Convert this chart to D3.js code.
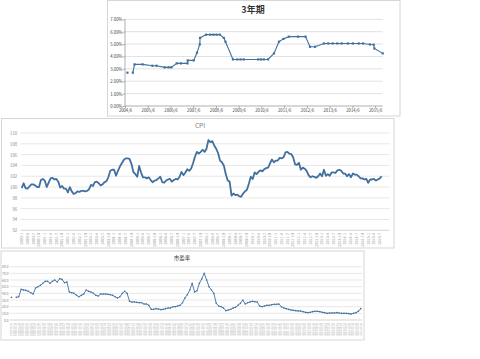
<!DOCTYPE html>
<html lang="zh">
<head>
<meta charset="UTF-8">
<title>3年期 / CPI / 市盈率</title>
<script src="https://d3js.org/d3.v7.min.js"></script>
<style>
  body { margin: 0; background: #fff; }
  svg { display: block; }
  text { font-family: "Noto Sans CJK SC", "DejaVu Sans", sans-serif; }
</style>
</head>
<body>
<svg id="chart" width="480" height="359"></svg>
<script>
// ---- 3年期 rate, irregular dates (null = break in the line)
const rateDates = [
  "2004-07-10", "2004-09-01", "2004-10-05", "2004-11-01", "2005-03-10", "2005-08-15", "2005-10-20",
  "2006-03-01", "2006-05-01", "2006-06-15", "2006-09-10", "2006-11-15", "2007-03-01", "2007-03-05",
  "2007-06-10", "2007-08-01", "2007-09-15", "2007-09-20", "2007-12-25", "2008-03-01", "2008-04-20",
  "2008-06-10", "2008-08-01", "2008-10-05", "2008-11-01", "2009-03-01", "2009-05-10", "2009-07-01",
  "2009-08-20", "2010-04-10", "2010-05-25", "2010-07-10", "2010-09-15", "2010-12-20", "2011-03-10",
  "2011-05-20", "2011-08-15", "2012-01-10", "2012-05-10", "2012-07-20", "2012-10-10", "2013-03-01",
  "2013-05-10", "2013-07-20", "2013-10-01", "2013-12-10", "2014-03-20", "2014-06-10", "2014-09-10",
  "2014-11-20", "2015-03-10", "2015-05-10", "2015-05-20", "2015-10-01"
];
const rateValues = [
  2.69, null, 2.69, 3.36, 3.36, 3.25, 3.25,
  3.12, 3.12, 3.12, 3.44, 3.44, 3.44, 3.68,
  3.68, 4.30, 4.97, 5.50, 5.76, 5.76, 5.76,
  5.76, 5.76, 5.50, 5.19, 3.76, 3.76, 3.76,
  3.76, 3.76, 3.76, 3.76, 3.76, 4.25, 5.19,
  5.42, 5.60, 5.60, 5.60, 4.78, 4.78, 5.05,
  5.05, 5.05, 5.05, 5.05, 5.05, 5.05, 5.05,
  5.05, 4.97, 4.95, 4.65, 4.25
];
const rateTicks = ["2004/6", "2005/6", "2006/6", "2007/6", "2008/6", "2009/6", "2010/6",
  "2011/6", "2012/6", "2013/6", "2014/6", "2015/6"];

// ---- CPI, monthly 2000-1 .. 2015-8
const cpiValues = [
  99.8, 100.7, 99.8, 99.7, 100.1, 100.5, 100.5, 100.3, 100.0, 100.0, 101.3, 101.5,
  101.2, 100.0, 100.8, 101.6, 101.7, 101.4, 101.5, 101.0, 99.9, 100.2, 99.7, 99.7,
  99.0, 100.0, 99.2, 98.7, 98.9, 99.2, 99.1, 99.3, 99.3, 99.2, 99.3, 99.6,
  100.4, 100.2, 100.9, 101.0, 100.7, 100.3, 100.5, 100.9, 101.1, 101.8, 103.0, 103.2,
  103.2, 102.1, 103.0, 103.8, 104.4, 105.0, 105.3, 105.3, 105.2, 104.3, 102.8, 102.4,
  101.9, 103.9, 102.7, 101.8, 101.8, 101.6, 101.8, 101.3, 100.9, 101.2, 101.3, 101.6,
  101.9, 100.9, 100.8, 101.2, 101.4, 101.5, 101.0, 101.3, 101.5, 101.4, 101.9, 102.8,
  102.2, 102.7, 103.3, 103.0, 103.4, 104.4, 105.6, 106.5, 106.2, 106.5, 106.9, 106.5,
  107.1, 108.7, 108.3, 108.5, 107.7, 107.1, 106.3, 104.9, 104.6, 104.0, 102.4, 101.2,
  101.0, 98.4, 98.8, 98.5, 98.6, 98.3, 98.2, 98.8, 99.2, 99.5, 100.6, 101.9,
  101.5, 102.7, 102.4, 102.8, 103.1, 102.9, 103.3, 103.5, 103.6, 104.4, 105.1, 104.6,
  104.9, 104.9, 105.4, 105.3, 105.5, 106.4, 106.5, 106.2, 106.1, 105.5, 104.2, 104.1,
  104.5, 103.2, 103.6, 103.4, 103.0, 102.2, 101.8, 102.0, 101.9, 101.7, 102.0, 102.5,
  102.0, 103.2, 102.1, 102.4, 102.1, 102.7, 102.7, 102.6, 103.1, 103.2, 103.0, 102.5,
  102.5, 102.0, 102.4, 101.8, 102.5, 102.3, 102.3, 102.0, 101.6, 101.6, 101.4, 101.5,
  100.8, 101.4, 101.4, 101.5, 101.2, 101.4, 101.6, 102.0
];
const cpiMonths = d3.timeMonth.range(new Date(2000, 0, 1), new Date(2015, 8, 1));
const cpiTicks = [92, 94, 96, 98, 100, 102, 104, 106, 108, 110];

// ---- 市盈率 (null = break)
const peValues = [
  34, null, 34, 35, 46, 45, 44.5, 43, 41, 39, 48, 50, 52, 55, 58, 58, 55, 58, 60, 57,
  62, 61, 56, 57, 42, 41, 40, 37, 35, 37, 39, 45, 43, 42, 40, 37, 36, 39, 39, 39,
  38.5, 38, 37, 35, 33, 35, 40, 43, 40, 28, 27, 27, 26.5, 26, 26, 24, 24, 22, 16, 16,
  17, 16.5, 15.5, 16, 17, 18, 18, 20, 20, 21, 22, 26, 33, 38, 45, 55, 42, 44, 55, 62,
  70, 60, 50, 45, 40, 25, 21, 20, 18, 14, 15, 16, 18, 19, 22, 25, 30, 24, 26, 27,
  28, 27.5, 27, 21, 20, 21, 22, 22, 23, 23.5, 23.5, 24, 20, 18, 17, 16, 15, 14.5, 14, 13.5,
  13.5, 12.5, 11.5, 11, 11.5, 12.5, 13, 13, 12.5, 11.5, 11, 10, 10.5, 10.5, 10.5, 11, 10.5, 10, 10, 10,
  9.5, 9, 10, 11, 13, 17
];
const peDates = peValues.map((_, i) => d3.timeDay.offset(new Date(1998, 7, 31), i * 42));
const peTicks = [0, 10, 20, 30, 40, 50, 60, 70, 80];

const svg = d3.select("#chart");
const blue = "#41709f";

function frame(x, y, w, h) {
  svg.append("rect").attr("x", x).attr("y", y).attr("width", w).attr("height", h)
    .attr("fill", "#fff").attr("stroke", "#d6d6d6").attr("stroke-width", 1);
}

// ================= chart 1: 3年期 =================
frame(107.5, 0.5, 292.5, 115.5);
{
  const parse = d3.timeParse("%Y-%m-%d");
  const data = rateDates.map((d, i) => ({ date: parse(d), value: rateValues[i] }));
  const x = d3.scaleTime().domain([new Date(2004, 5, 1), new Date(2015, 9, 1)]).range([125, 382.7]);
  const y = d3.scaleLinear().domain([0, 0.07]).range([106, 19.3]);
  const g = svg.append("g");

  g.append("g").selectAll("line").data(d3.range(1, 8).map(d => d / 100)).join("line")
    .attr("x1", 125).attr("x2", 382.7).attr("y1", y).attr("y2", y)
    .attr("stroke", "#d9d9d9").attr("stroke-width", 0.8);

  const ya = g.append("g").attr("transform", "translate(125,0)")
    .call(d3.axisLeft(y).tickValues(d3.range(0, 8).map(d => d / 100)).tickFormat(d3.format(".2%")).tickSize(2));
  ya.selectAll("text").attr("font-size", 4.3).attr("fill", "#404040").attr("x", -2.5);

  const xa = g.append("g").attr("transform", "translate(0,106)")
    .call(d3.axisBottom(x).tickValues(rateTicks.map(t => d3.timeParse("%Y/%m")(t)))
      .tickFormat(d3.timeFormat("%Y/%-m")).tickSize(2));
  xa.selectAll("text").attr("font-size", 4.2).attr("fill", "#404040").attr("y", 3.5);
  [ya, xa].forEach(a => {
    a.selectAll("path, line").attr("stroke", "#8c8c8c").attr("stroke-width", 0.7);
    a.select(".domain").attr("d", null);
  });
  g.append("line").attr("x1", 125).attr("x2", 125).attr("y1", 19.3).attr("y2", 106).attr("stroke", "#8c8c8c").attr("stroke-width", 0.7);
  g.append("line").attr("x1", 125).attr("x2", 382.7).attr("y1", 106).attr("y2", 106).attr("stroke", "#8c8c8c").attr("stroke-width", 0.7);

  const line = d3.line().defined(d => d.value !== null)
    .x(d => x(d.date)).y(d => y(d.value / 100));
  g.append("path").datum(data).attr("d", line).attr("fill", "none")
    .attr("stroke", blue).attr("stroke-width", 1.1);
  g.append("g").selectAll("rect").data(data.filter(d => d.value !== null)).join("rect")
    .attr("x", d => x(d.date) - 1.1).attr("y", d => y(d.value / 100) - 1.1)
    .attr("width", 2.2).attr("height", 2.2).attr("fill", blue);

  svg.append("text").attr("x", 253).attr("y", 12.5).attr("text-anchor", "middle")
    .attr("font-size", 9).attr("font-weight", "bold").attr("fill", "#333").text("3年期");
}

// ================= chart 2: CPI =================
frame(1.5, 118.5, 392.5, 129.5);
{
  const x = d3.scalePoint().domain(cpiMonths).range([21.7, 381.7]);
  const y = d3.scaleLinear().domain([92, 110]).range([230.3, 133]);
  const g = svg.append("g");

  g.append("g").selectAll("line").data(cpiTicks).join("line")
    .attr("x1", 20.7).attr("x2", 389.5).attr("y1", y).attr("y2", y)
    .attr("stroke", d => d === 92 ? "#c8c8c8" : "#e2e2e2").attr("stroke-width", 0.8);

  const ya = g.append("g").attr("transform", "translate(20.7,0)")
    .call(d3.axisLeft(y).tickValues(cpiTicks).tickSize(0));
  ya.select(".domain").remove();
  ya.selectAll("text").attr("font-size", 4.3).attr("fill", "#8c8c8c").attr("x", -3.5);

  const fmt = d3.timeFormat("%Y-%-m");
  g.append("g").selectAll("text").data(cpiMonths.filter((d, i) => i % 3 === 0)).join("text")
    .attr("transform", d => `translate(${x(d) + 1.3},233) rotate(-90)`)
    .attr("text-anchor", "end").attr("font-size", 3.8).attr("fill", "#999").text(fmt);

  const line = d3.line().x((d, i) => x(cpiMonths[i])).y(d => y(d));
  g.append("path").datum(cpiValues).attr("d", line).attr("fill", "none")
    .attr("stroke", blue).attr("stroke-width", 1.8).attr("stroke-linejoin", "round");

  svg.append("text").attr("x", 200).attr("y", 127.5).attr("text-anchor", "middle")
    .attr("font-size", 6.5).attr("fill", "#7f7f7f").text("CPI");
}

// ================= chart 3: 市盈率 =================
frame(1, 251, 363, 89);
{
  const x = d3.scalePoint().domain(d3.range(peValues.length)).range([11.5, 360.8]);
  const y = d3.scaleLinear().domain([0, 80]).range([320, 266.7]);
  const g = svg.append("g");

  g.append("g").selectAll("line").data(peTicks).join("line")
    .attr("x1", 10).attr("x2", 362).attr("y1", y).attr("y2", y)
    .attr("stroke", d => d === 0 ? "#c8c8c8" : "#e2e2e2").attr("stroke-width", 0.8);

  const ya = g.append("g").attr("transform", "translate(10,0)")
    .call(d3.axisLeft(y).tickValues(peTicks).tickFormat(d3.format(".1f")).tickSize(0));
  ya.select(".domain").remove();
  ya.selectAll("text").attr("font-size", 3.3).attr("fill", "#7f7f7f").attr("x", -1.5);

  const fmt = d3.timeFormat("%Y-%m-%d");
  g.append("g").selectAll("text").data(peDates).join("text")
    .attr("transform", (d, i) => `translate(${x(i) + 0.9},323) rotate(-90)`)
    .attr("text-anchor", "end").attr("font-size", 2.5).attr("fill", "#aaa").text(fmt);

  const line = d3.line().defined(d => d !== null).x((d, i) => x(i)).y(d => y(d));
  g.append("path").datum(peValues).attr("d", line).attr("fill", "none")
    .attr("stroke", blue).attr("stroke-width", 0.9);
  g.append("g").selectAll("circle").data(peValues.map((v, i) => [i, v]).filter(d => d[1] !== null)).join("circle")
    .attr("cx", d => x(d[0])).attr("cy", d => y(d[1])).attr("r", 0.8).attr("fill", blue);

  svg.append("text").attr("x", 182).attr("y", 260).attr("text-anchor", "middle")
    .attr("font-size", 5.5).attr("fill", "#404040").text("市盈率");
}
</script>
</body>
</html>
